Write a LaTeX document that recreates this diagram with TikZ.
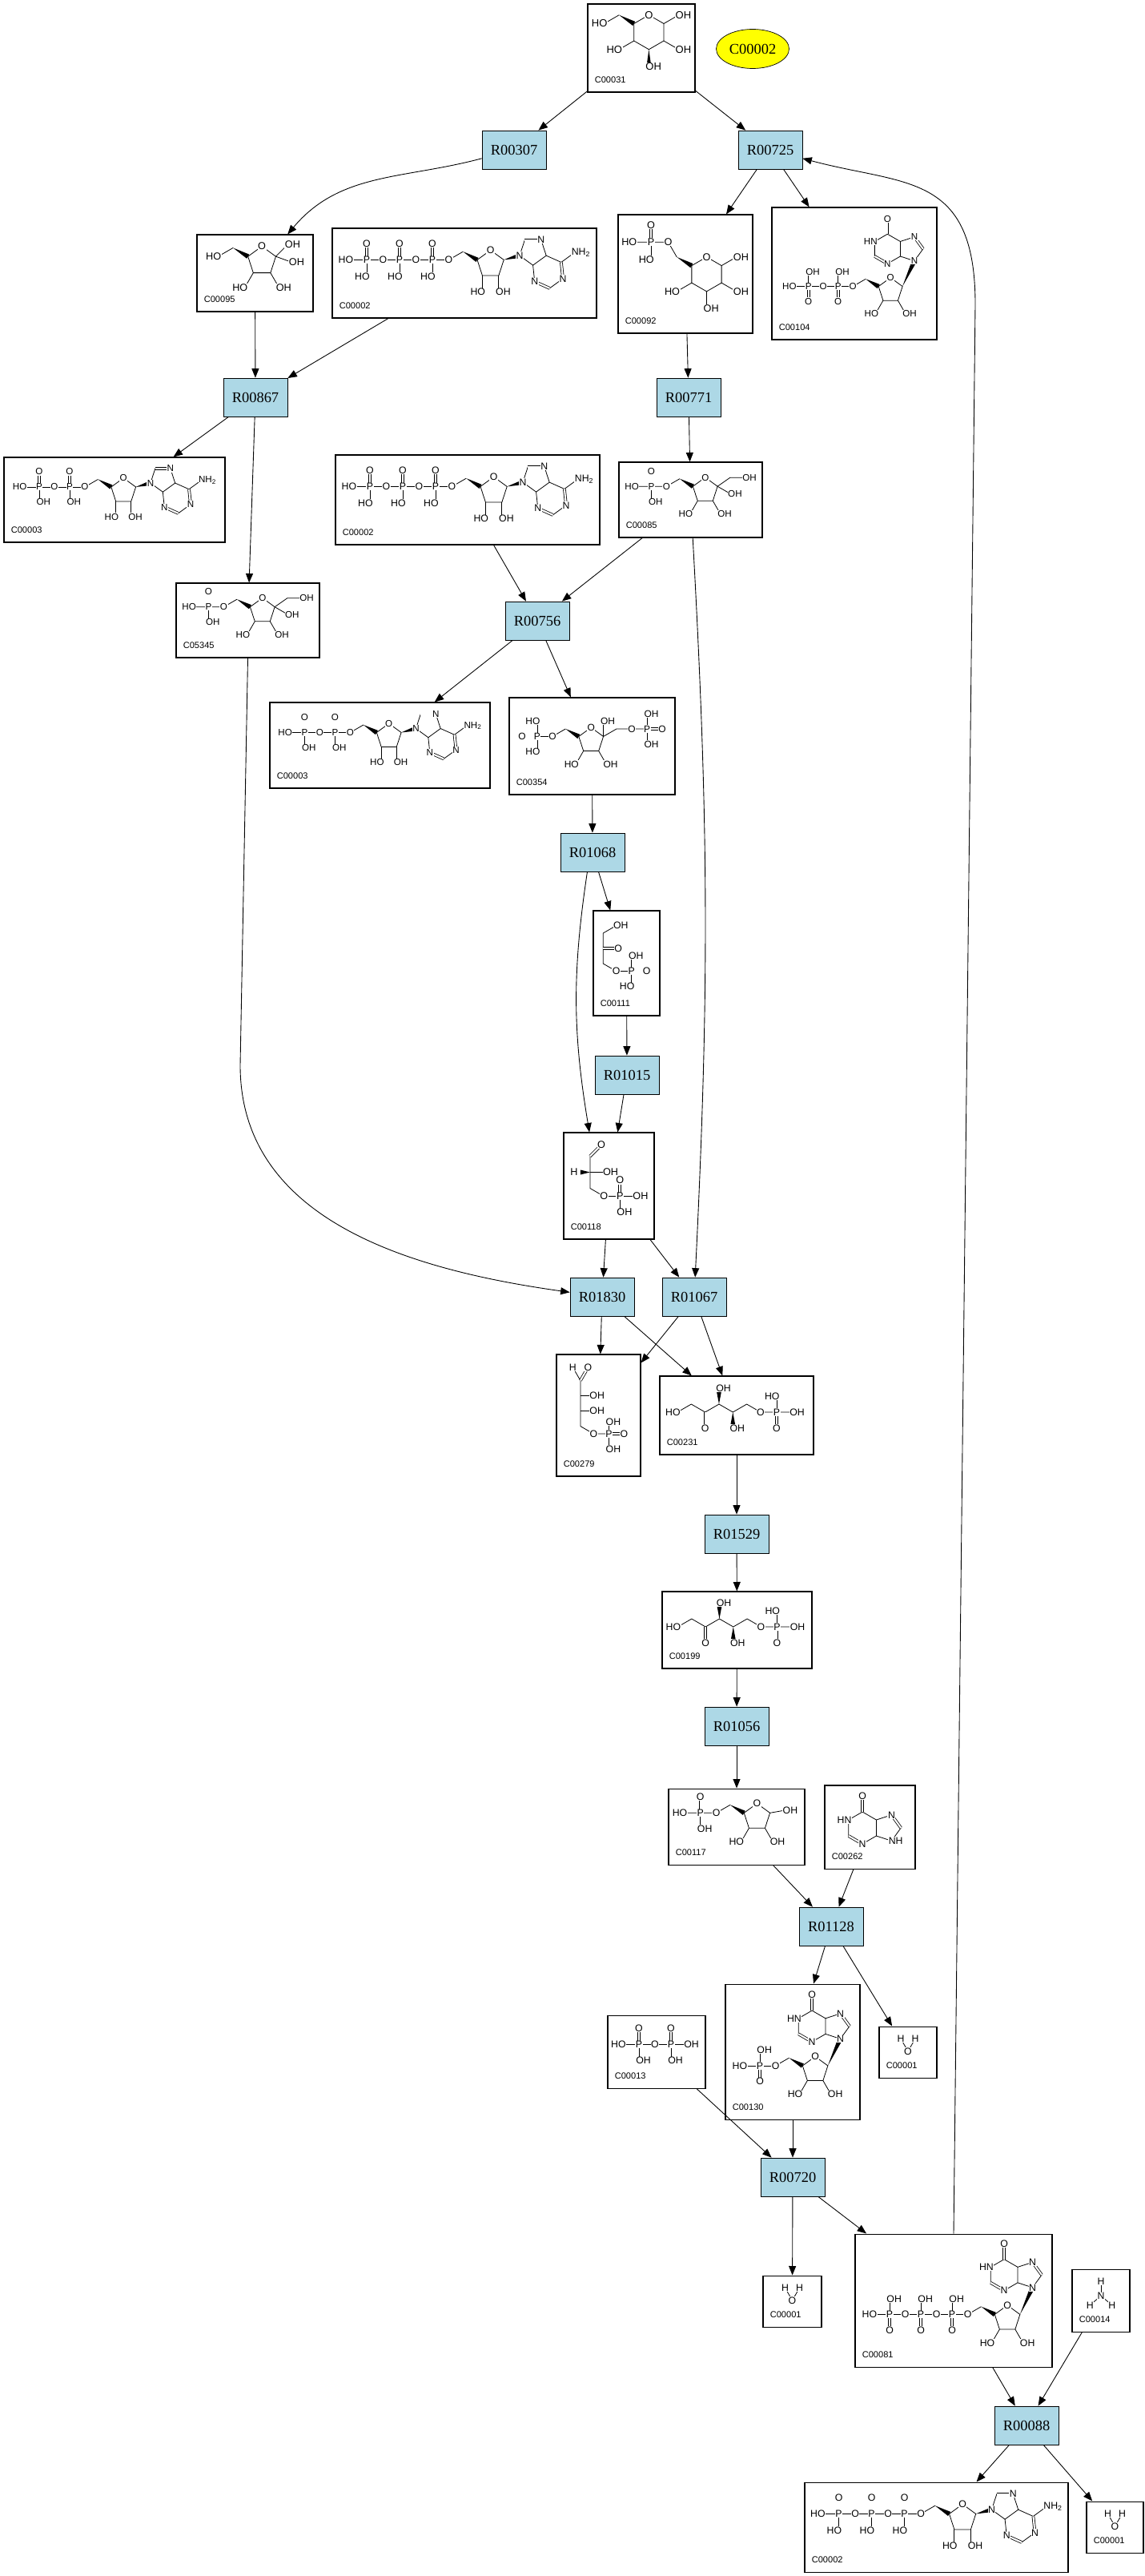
\documentclass[tikz,border=0pt]{standalone}
\usepackage{fontspec}
\setmainfont{Liberation Serif}
\setsansfont{Liberation Sans}
\usetikzlibrary{arrows.meta}
\usetikzlibrary{shapes.geometric}
\usetikzlibrary{calc}

\definecolor{rxnblue}{HTML}{ADD8E6}
\definecolor{keyyellow}{HTML}{FFFF00}

\tikzset{
  rxn/.style={draw, fill=rxnblue, minimum width=1.6cm, minimum height=0.96cm, inner sep=0pt, font=\fontsize{10.5}{12}\selectfont},
  key/.style={ellipse, draw, fill=keyyellow, minimum width=1.82cm, minimum height=0.98cm, inner sep=0pt, font=\fontsize{10.5}{12}\selectfont},
  cpd/.style={draw, line width=0.6pt, inner sep=0pt},
  cid/.style={anchor=base west, inner sep=0pt, font=\sffamily\fontsize{6.3}{7}\selectfont},
  link/.style={-{Triangle[length=0.23cm,width=0.18cm]}, line width=0.5pt},
  atom/.style={fill=white, inner sep=0.3pt, font=\sffamily\fontsize{7}{7}\selectfont},
  hr/.style={atom, anchor=west, xshift=-2.6pt},
  hl/.style={atom, anchor=east, xshift=2.6pt},
  dbl/.style={double, double distance=1.2pt},
}

% Wedge bond: narrow end, wide end
\newcommand\wdg[2]{\fill (#1) -- ($(#2)!0.06cm!90:(#1)$) -- ($(#2)!0.06cm!-90:(#1)$) -- cycle;}

% Phosphate: =O up or =O down
\newcommand\phosU[3]{%
  \draw[dbl] (#1) -- ++(90:1) node[atom] {O};
  \draw (#1) -- ++(-90:1) node[#2] {#3};
  \node[atom] at (#1) {P};}
\newcommand\phosD[3]{%
  \draw (#1) -- ++(90:1) node[#2] {#3};
  \draw[dbl] (#1) -- ++(-90:1) node[atom] {O};
  \node[atom] at (#1) {P};}

% Ribose + adenine from (o5)
\newcommand\adeside{%
  \draw (o5) -- ++(30:1) coordinate (c5r);
  \path (c5r) ++(-30:1) coordinate (c4r);
  \wdg{c5r}{c4r}
  \draw (c4r) -- ++(36:1) coordinate (or) -- ++(-36:1) coordinate (c1r) -- ++(-108:1) coordinate (c2r) -- ++(180:1) coordinate (c3r) -- cycle;
  \draw (c2r) -- ++(-90:1) node[hr] {OH};
  \draw (c3r) -- ++(-90:1) node[hl] {HO};
  \path (c1r) ++(15:1) coordinate (n9);
  \wdg{c1r}{n9}
  \draw (n9) -- ++(72:1) coordinate (c8) -- ++(0:1) coordinate (n7) -- ++(-72:1) coordinate (c5) -- ++(216:1) coordinate (c4) -- cycle;
  \draw (c5) -- ++(-24:1) coordinate (c6) -- ++(-84:1) coordinate (n1) -- ++(-144:1) coordinate (c2) -- ++(156:1) coordinate (n3) -- (c4);
  \draw (c6) -- ++(36:1) node[hr] {NH\textsubscript{2}};
  \draw[dbl] (c8) -- (n7);
  \draw[dbl] (c6) -- (n1);
  \draw[dbl] (c2) -- (n3);
  \node[atom] at (or) {O}; \node[atom] at (n9) {N}; \node[atom] at (n7) {N};
  \node[atom] at (n1) {N}; \node[atom] at (n3) {N};}

% Ribose + hypoxanthine from (o5)
\newcommand\inoside{%
  \draw (o5) -- ++(30:1) coordinate (c5r);
  \path (c5r) ++(-30:1) coordinate (c4r);
  \wdg{c5r}{c4r}
  \draw (c4r) -- ++(36:1) coordinate (or) -- ++(-36:1) coordinate (c1r) -- ++(-108:1) coordinate (c2r) -- ++(180:1) coordinate (c3r) -- cycle;
  \draw (c2r) -- ++(-60:1) node[hr] {OH};
  \draw (c3r) -- ++(-120:1) node[hl] {HO};
  \path (c1r) ++(65:1.9) coordinate (n9);
  \wdg{c1r}{n9}
  \draw (n9) -- ++(54:1) coordinate (c8) -- ++(126:1) coordinate (n7) -- ++(198:1) coordinate (c5) -- ++(-90:1) coordinate (c4) -- cycle;
  \draw (c5) -- ++(150:1) coordinate (c6) -- ++(210:1) coordinate (n1) -- ++(-90:1) coordinate (c2) -- ++(-30:1) coordinate (n3) -- (c4);
  \draw[dbl] (c6) -- ++(90:1) node[atom] {O};
  \draw[dbl] (c8) -- (n7);
  \draw[dbl] (c2) -- (n3);
  \node[atom] at (or) {O}; \node[atom] at (n9) {N}; \node[atom] at (n7) {N};
  \node[hl] at (n1) {HN}; \node[atom] at (n3) {N};}

% Structures
\newcommand\molGLC{%
  \begin{scope}[shift={(-0.43,1.0)}]
  \draw (0,0) coordinate (g5) -- ++(30:1) coordinate (go) -- ++(-30:1) coordinate (g1) -- ++(-90:1) coordinate (g2) -- ++(-150:1) coordinate (g3) -- ++(150:1) coordinate (g4) -- cycle;
  \path (g5) ++(150:1) coordinate (g6);
  \wdg{g6}{g5}
  \draw (g6) -- ++(210:1) node[hl] {HO};
  \draw (g1) -- ++(30:1) node[hr] {OH};
  \draw (g2) -- ++(-30:1) node[hr] {OH};
  \path (g3) ++(-90:1) coordinate (g7);
  \wdg{g3}{g7}
  \node[hr] at (g7) {OH};
  \draw (g4) -- ++(-150:1) node[hl] {HO};
  \node[atom] at (go) {O};
  \end{scope}}
\newcommand\molFRU{%
  \begin{scope}[shift={(-0.41,0.55)}]
  \draw (0,0) coordinate (f5) -- ++(36:1) coordinate (fo) -- ++(-36:1) coordinate (f2) -- ++(-108:1) coordinate (f3) -- ++(180:1) coordinate (f4) -- cycle;
  \path (f5) ++(150:1) coordinate (f6);
  \wdg{f6}{f5}
  \draw (f6) -- ++(210:1) node[hl] {HO};
  \draw (f2) -- ++(45:1) node[hr] {OH};
  \draw (f2) -- ++(-20:1) node[hr] {OH};
  \draw (f3) -- ++(-60:1) node[hr] {OH};
  \draw (f4) -- ++(-120:1) node[hl] {HO};
  \node[atom] at (fo) {O};
  \end{scope}}
\newcommand\molGSP{%
  \begin{scope}[shift={(-3.0,1.43)}]
  \draw (0,0) -- (2,0) -- ++(-60:1) coordinate (g6);
  \path (g6) ++(-30:1) coordinate (g5);
  \wdg{g6}{g5}
  \draw (g5) -- ++(30:1) coordinate (go) -- ++(-30:1) coordinate (g1) -- ++(-90:1) coordinate (g2) -- ++(-150:1) coordinate (g3) -- ++(150:1) coordinate (g4) -- cycle;
  \draw (g1) -- ++(30:1) node[hr] {OH};
  \draw (g2) -- ++(-30:1) node[hr] {OH};
  \draw (g3) -- ++(-90:1) node[hr] {OH};
  \draw (g4) -- ++(-150:1) node[hl] {HO};
  \phosU{1,0}{hl}{HO}
  \node[atom] at (2,0) {O}; \node[hl] at (0,0) {HO}; \node[atom] at (go) {O};
  \end{scope}}
\newcommand\molFSP{%
  \begin{scope}[shift={(-3.58,0.41)}]
  \draw (0,0) -- (2,0) -- ++(30:1) coordinate (f6);
  \path (f6) ++(-30:1) coordinate (f5);
  \wdg{f6}{f5}
  \draw (f5) -- ++(36:1) coordinate (fo) -- ++(-36:1) coordinate (f2) -- ++(-108:1) coordinate (f3) -- ++(180:1) coordinate (f4) -- cycle;
  \draw (f2) -- ++(35:1) -- ++(0:1) node[hr] {OH};
  \draw (f2) -- ++(-30:1) node[hr] {OH};
  \draw (f3) -- ++(-60:1) node[hr] {OH};
  \draw (f4) -- ++(-120:1) node[hl] {HO};
  \phosU{1,0}{hr}{OH}
  \node[atom] at (2,0) {O}; \node[hl] at (0,0) {HO}; \node[atom] at (fo) {O};
  \end{scope}}
\newcommand\molFBP{%
  \begin{scope}[shift={(-3.61,0.16)}]
  \draw (0,0) -- (1,0) -- ++(30:1) coordinate (f6);
  \path (f6) ++(-30:1) coordinate (f5);
  \wdg{f6}{f5}
  \draw[dbl] (0,0) -- (-1,0) node[atom] {O};
  \draw (0,0) -- (0,1) node[hl] {HO};
  \draw (0,0) -- (0,-1) node[hl] {HO};
  \draw (f5) -- ++(36:1) coordinate (fo) -- ++(-36:1) coordinate (f2) -- ++(-108:1) coordinate (f3) -- ++(180:1) coordinate (f4) -- cycle;
  \draw (f2) -- ++(90:1) node[hr] {OH};
  \draw (f2) -- ++(30:1) -- ++(0:1) coordinate (o1) -- ++(0:1) coordinate (p1);
  \draw[dbl] (p1) -- ++(0:1) node[atom] {O};
  \draw (p1) -- ++(90:1) node[hr] {OH};
  \draw (p1) -- ++(-90:1) node[hr] {OH};
  \draw (f3) -- ++(-60:1) node[hr] {OH};
  \draw (f4) -- ++(-120:1) node[hl] {HO};
  \node[atom] at (0,0) {P}; \node[atom] at (1,0) {O}; \node[atom] at (fo) {O};
  \node[atom] at (o1) {O}; \node[atom] at (p1) {P};
  \end{scope}}
\newcommand\molDHAP{%
  \begin{scope}[shift={(-1.54,1.5)}]
  \draw (0,0) coordinate (d1) -- ++(30:1) node[hr] {OH};
  \draw (d1) -- ++(0,-1) coordinate (d2) -- ++(0,-1) coordinate (d3) -- ++(-30:1) coordinate (o1) -- ++(0:1) coordinate (p1);
  \draw[dbl] (d2) -- ++(0:1) node[atom] {O};
  \draw[dbl] (p1) -- ++(0:1) node[atom] {O};
  \draw (p1) -- ++(90:1) node[hr] {OH};
  \draw (p1) -- ++(-90:1) node[hl] {HO};
  \node[atom] at (o1) {O}; \node[atom] at (p1) {P};
  \end{scope}}
\newcommand\molGAP{%
  \begin{scope}[shift={(-1.18,1.4)}]
  \draw[dbl] (0,0) coordinate (a1) -- ++(45:1) node[atom] {O};
  \draw (a1) -- ++(0,-1) coordinate (a2) -- ++(0,-1) coordinate (a3) -- ++(-30:1) coordinate (o1) -- ++(0:1) coordinate (p1) -- ++(0:1) node[hr] {OH};
  \path (a2) ++(-0.6,0) coordinate (ah) ++(-0.4,0) coordinate (ah2);
  \wdg{a2}{ah}
  \node[atom] at (ah2) {H};
  \draw (a2) -- ++(1,0) node[hr] {OH};
  \draw[dbl] (p1) -- ++(90:1) node[atom] {O};
  \draw (p1) -- ++(-90:1) node[hr] {OH};
  \node[atom] at (o1) {O}; \node[atom] at (p1) {P};
  \end{scope}}
\newcommand\molEFP{%
  \begin{scope}[shift={(-1.69,2.68)}]
  \draw (0,0) coordinate (e0) -- ++(-60:1) coordinate (e1) -- ++(0,-1) coordinate (e2) -- ++(0,-1) coordinate (e3) -- ++(0,-1) coordinate (e4) -- ++(-30:1) coordinate (o1) -- ++(0:1) coordinate (p1);
  \draw[dbl] (e1) -- ++(60:1) node[atom] {O};
  \draw (e2) -- ++(0:0.8) node[hr] {OH};
  \draw (e3) -- ++(0:0.8) node[hr] {OH};
  \draw[dbl] (p1) -- ++(0:1) node[atom] {O};
  \draw (p1) -- ++(90:0.8) node[hr] {OH};
  \draw (p1) -- ++(-90:1) node[hr] {OH};
  \node[atom] at (e0) {H}; \node[atom] at (o1) {O}; \node[atom] at (p1) {P};
  \end{scope}}
\newcommand\molXFP{%
  \begin{scope}[shift={(-3.7,-0.25)}]
  \draw (0,0) -- ++(30:1) -- ++(-30:1) coordinate (x2) -- ++(30:1) coordinate (x3) -- ++(-30:1) coordinate (x4) -- ++(30:1) -- ++(-30:1) coordinate (o1) -- ++(0:1) coordinate (p1) -- ++(0:1) node[hr] {OH};
  \draw[dbl] (x2) -- ++(0,-1) node[atom] {O};
  \path (x3) ++(0,0.8) coordinate (x5);
  \wdg{x3}{x5}
  \draw (x5) -- ++(0,0.2) node[hr] {OH};
  \path (x4) ++(0,-0.8) coordinate (x6);
  \wdg{x4}{x6}
  \draw (x6) -- ++(0,-0.2) node[hr] {OH};
  \draw (p1) -- ++(0,1) node[hl] {HO};
  \draw[dbl] (p1) -- ++(0,-1) node[atom] {O};
  \node[hl] at (0,0) {HO}; \node[atom] at (o1) {O}; \node[atom] at (p1) {P};
  \end{scope}}
\newcommand\molRFP{%
  \begin{scope}[shift={(-3.27,0.41)}]
  \draw (0,0) -- (2,0) -- ++(30:1) coordinate (r5);
  \path (r5) ++(-30:1) coordinate (r4);
  \wdg{r5}{r4}
  \draw (r4) -- ++(36:1) coordinate (ro) -- ++(-36:1) coordinate (r1) -- ++(-108:1) coordinate (r2) -- ++(180:1) coordinate (r3) -- cycle;
  \draw (r1) -- ++(10:1) node[hr] {OH};
  \draw (r2) -- ++(-60:1) node[hr] {OH};
  \draw (r3) -- ++(-120:1) node[hl] {HO};
  \phosU{1,0}{hr}{OH}
  \node[atom] at (2,0) {O}; \node[hl] at (0,0) {HO}; \node[atom] at (ro) {O};
  \end{scope}}
\newcommand\molHYX{%
  \begin{scope}[shift={(-0.47,0.5)}]
  \draw (0,0) coordinate (h6) -- ++(210:1) coordinate (h1) -- ++(0,-1) coordinate (h2) -- ++(-30:1) coordinate (h3) -- ++(30:1) coordinate (h4) -- ++(0,1) coordinate (h5) -- cycle;
  \draw (h4) -- ++(-18:1) coordinate (h9) -- ++(54:1) coordinate (h8) -- ++(126:1) coordinate (h7) -- (h5);
  \draw[dbl] (h6) -- ++(0,1) node[atom] {O};
  \draw[dbl] (h2) -- (h3);
  \draw[dbl] (h8) -- (h7);
  \node[hl] at (h1) {HN}; \node[atom] at (h3) {N}; \node[atom] at (h7) {N}; \node[hr] at (h9) {NH};
  \end{scope}}
\newcommand\molATP{%
  \begin{scope}[shift={(-6.95,0.37)}]
  \draw (0,0) -- (6,0) coordinate (o5);
  \adeside
  \phosU{1,0}{hl}{HO} \phosU{3,0}{hl}{HO} \phosU{5,0}{hl}{HO}
  \node[atom] at (2,0) {O}; \node[atom] at (4,0) {O}; \node[atom] at (6,0) {O};
  \node[hl] at (0,0) {HO};
  \end{scope}}
\newcommand\molADP{%
  \begin{scope}[shift={(-5.95,0.37)}]
  \draw (0,0) -- (4,0) coordinate (o5);
  \adeside
  \phosU{1,0}{hr}{OH} \phosU{3,0}{hr}{OH}
  \node[atom] at (2,0) {O}; \node[atom] at (4,0) {O};
  \node[hl] at (0,0) {HO};
  \end{scope}}
\newcommand\molIMP{%
  \begin{scope}[shift={(-3.1,-1.355)}]
  \draw (0,0) -- (2,0) coordinate (o5);
  \inoside
  \phosD{1,0}{hr}{OH}
  \node[atom] at (2,0) {O}; \node[hl] at (0,0) {HO};
  \end{scope}}
\newcommand\molIDP{%
  \begin{scope}[shift={(-4.1,-1.355)}]
  \draw (0,0) -- (4,0) coordinate (o5);
  \inoside
  \phosD{1,0}{hr}{OH} \phosD{3,0}{hr}{OH}
  \node[atom] at (2,0) {O}; \node[atom] at (4,0) {O}; \node[hl] at (0,0) {HO};
  \end{scope}}
\newcommand\molITP{%
  \begin{scope}[shift={(-5.1,-1.355)}]
  \draw (0,0) -- (6,0) coordinate (o5);
  \inoside
  \phosD{1,0}{hr}{OH} \phosD{3,0}{hr}{OH} \phosD{5,0}{hr}{OH}
  \node[atom] at (2,0) {O}; \node[atom] at (4,0) {O}; \node[atom] at (6,0) {O}; \node[hl] at (0,0) {HO};
  \end{scope}}
\newcommand\molNHT{%
  \begin{scope}[shift={(0,-0.18)}]
  \draw (0,0) coordinate (n0) -- (0,1) node[atom] {H};
  \draw (n0) -- ++(-140:1) node[atom] {H};
  \draw (n0) -- ++(-40:1) node[atom] {H};
  \node[atom] at (n0) {N};
  \end{scope}}
\newcommand\molWAT{%
  \begin{scope}[shift={(-0.5,0.43)}]
  \draw (0.5,-0.866) coordinate (w0) -- ++(120:1) node[atom] {H};
  \draw (w0) -- ++(60:1) node[atom] {H};
  \node[atom] at (w0) {O};
  \end{scope}}
\newcommand\molPPI{%
  \begin{scope}[shift={(-2.1,0)}]
  \draw (0,0) -- (4,0);
  \phosU{1,0}{hr}{OH} \phosU{3,0}{hr}{OH}
  \node[hl] at (0,0) {HO}; \node[atom] at (2,0) {O}; \node[hr] at (4,0) {OH};
  \end{scope}}

% name, position, width, height, id, bond length, structure, font size
\newcommand\compound[8]{%
  \node[cpd, minimum width=#3cm, minimum height=#4cm] (#1) at (#2) {};
  \begin{scope}[shift={([yshift=0.18cm]#1.center)}, x=#6cm, y=#6cm, line width=0.45pt,
      atom/.style={fill=white, inner sep=0.3pt, font=\sffamily\fontsize{#8}{#8}\selectfont},
      hr/.style={atom, anchor=west, xshift=-0.37*#8pt},
      hl/.style={atom, anchor=east, xshift=0.37*#8pt}]
  #7
  \end{scope}
  \node[cid] (#1-id) at ([shift={(0.18,0.24)}]#1.south west) {#5};}

\begin{document}
\begin{tikzpicture}
\path (0,0) rectangle (28.58,-64.32);

% Define nodes
% Compounds
\compound{c00031}{16.02,-1.20}{2.68}{2.20}{C00031}{0.43}{\molGLC}{7.4}
\node[key] (c00002) at (18.80,-1.22) {C00002};
\compound{c00095}{6.37,-6.82}{2.90}{1.92}{C00095}{0.43}{\molFRU}{7.2}
\compound{c00002a}{11.60,-6.82}{6.60}{2.24}{C00002}{0.41}{\molATP}{7}
\compound{c00092}{17.12,-6.84}{3.36}{2.96}{C00092}{0.43}{\molGSP}{7.2}
\compound{c00104}{21.34,-6.83}{4.12}{3.30}{C00104}{0.37}{\molIDP}{6.6}
\compound{c00003a}{2.86,-12.48}{5.52}{2.12}{C00003}{0.38}{\molADP}{6.6}
\compound{c00002b}{11.68,-12.48}{6.60}{2.24}{C00002}{0.41}{\molATP}{7}
\compound{c00085}{17.25,-12.48}{3.58}{1.88}{C00085}{0.38}{\molFSP}{6.6}
\compound{c05345}{6.19,-15.49}{3.58}{1.86}{C05345}{0.38}{\molFSP}{6.6}
\compound{c00003b}{9.49,-18.61}{5.50}{2.14}{C00003}{0.38}{\molADP}{6.6}
\compound{c00354}{14.79,-18.63}{4.14}{2.42}{C00354}{0.38}{\molFBP}{6.8}
\compound{c00111}{15.65,-24.05}{1.66}{2.62}{C00111}{0.38}{\molDHAP}{7}
\compound{c00118}{15.21,-29.61}{2.26}{2.66}{C00118}{0.40}{\molGAP}{7.2}
\compound{c00279}{14.95,-35.34}{2.10}{3.04}{C00279}{0.38}{\molEFP}{7}
\compound{c00231}{18.40,-35.34}{3.84}{1.96}{C00231}{0.40}{\molXFP}{7}
\compound{c00199}{18.41,-40.70}{3.74}{1.92}{C00199}{0.40}{\molXFP}{7}
\compound{c00117}{18.40,-45.61}{3.40}{1.90}{C00117}{0.40}{\molRFP}{7}
\compound{c00262}{21.73,-45.62}{2.26}{2.08}{C00262}{0.40}{\molHYX}{7}
\compound{c00013}{16.40,-51.23}{2.44}{1.82}{C00013}{0.40}{\molPPI}{7}
\compound{c00130}{19.80,-51.23}{3.36}{3.38}{C00130}{0.39}{\molIMP}{7}
\compound{c00001a}{22.68,-51.24}{1.44}{1.28}{C00001}{0.36}{\molWAT}{7}
\compound{c00001b}{19.79,-57.46}{1.46}{1.28}{C00001}{0.36}{\molWAT}{7}
\compound{c00081}{23.82,-57.44}{4.92}{3.32}{C00081}{0.39}{\molITP}{7}
\compound{c00014}{27.50,-57.44}{1.44}{1.56}{C00014}{0.36}{\molNHT}{7}
\compound{c00002c}{23.39,-63.10}{6.58}{2.24}{C00002}{0.41}{\molATP}{7}
\compound{c00001c}{27.85,-63.10}{1.42}{1.28}{C00001}{0.36}{\molWAT}{7}

% Reactions
\node[rxn] (r00307) at (12.84,-3.74) {R00307};
\node[rxn] (r00725) at (19.24,-3.74) {R00725};
\node[rxn] (r00867) at (6.38,-9.92) {R00867};
\node[rxn] (r00771) at (17.20,-9.92) {R00771};
\node[rxn] (r00756) at (13.42,-15.50) {R00756};
\node[rxn] (r01068) at (14.80,-21.28) {R01068};
\node[rxn] (r01015) at (15.66,-26.84) {R01015};
\node[rxn] (r01830) at (15.04,-32.38) {R01830};
\node[rxn] (r01067) at (17.34,-32.38) {R01067};
\node[rxn] (r01529) at (18.40,-38.30) {R01529};
\node[rxn] (r01056) at (18.40,-43.10) {R01056};
\node[rxn] (r01128) at (20.76,-48.10) {R01128};
\node[rxn] (r00720) at (19.80,-54.36) {R00720};
\node[rxn] (r00088) at (25.64,-60.56) {R00088};

\coordinate (turnL) at (6.00,-26.60);
\coordinate (turnR) at (24.36,-7.60);

% Edges
\draw[link] (c00031) -- (r00307);
\draw[link] (c00031) -- (r00725);
\draw[link] (r00307) to[out=195,in=50] (c00095);
\draw[link] (r00725) -- (c00092);
\draw[link] (r00725) -- (c00104);
\draw[link] (c00095) -- (r00867);
\draw[link] (c00002a) -- (r00867);
\draw[link] (c00092) -- (r00771);
\draw[link] (r00867) -- (c00003a);
\draw[link] (r00867) -- (c05345);
\draw[link] (r00771) -- (c00085);
\draw[link] (c00002b) -- (r00756);
\draw[link] (c00085) -- (r00756);
\draw[link] (c00085) to[bend left=3] (r01067);
\draw[link] (r00756) -- (c00003b);
\draw[link] (r00756) -- (c00354);
\draw[link] (c00354) -- (r01068);
\draw[link] (r01068) -- (c00111);
\draw[link] (r01068.-105) to[bend right=9] (c00118.110);
\draw[link] (c00111) -- (r01015);
\draw[link] (r01015) -- (c00118);
\draw[link] (c05345.south) -- (turnL) to[out=-90,in=172] (r01830);
\draw[link] (c00118) -- (r01830);
\draw[link] (c00118) -- (r01067);
\draw[link] (r01830) -- (c00279);
\draw[link] (r01830) -- (c00231);
\draw[link] (r01067) -- (c00279);
\draw[link] (r01067) -- (c00231);
\draw[link] (c00231) -- (r01529);
\draw[link] (r01529) -- (c00199);
\draw[link] (c00199) -- (r01056);
\draw[link] (r01056) -- (c00117);
\draw[link] (c00117) -- (r01128);
\draw[link] (c00262) -- (r01128);
\draw[link] (r01128) -- (c00130);
\draw[link] (r01128) -- (c00001a);
\draw[link] (c00013) -- (r00720);
\draw[link] (c00130) -- (r00720);
\draw[link] (r00720) -- (c00001b);
\draw[link] (r00720) -- (c00081);
\draw[link] (c00081.north) -- (turnR) to[out=90,in=-15,out looseness=1.5,in looseness=1.2] (r00725);
\draw[link] (c00081) -- (r00088);
\draw[link] (c00014) -- (r00088);
\draw[link] (r00088) -- (c00002c);
\draw[link] (r00088) -- (c00001c);
\end{tikzpicture}
\end{document}
